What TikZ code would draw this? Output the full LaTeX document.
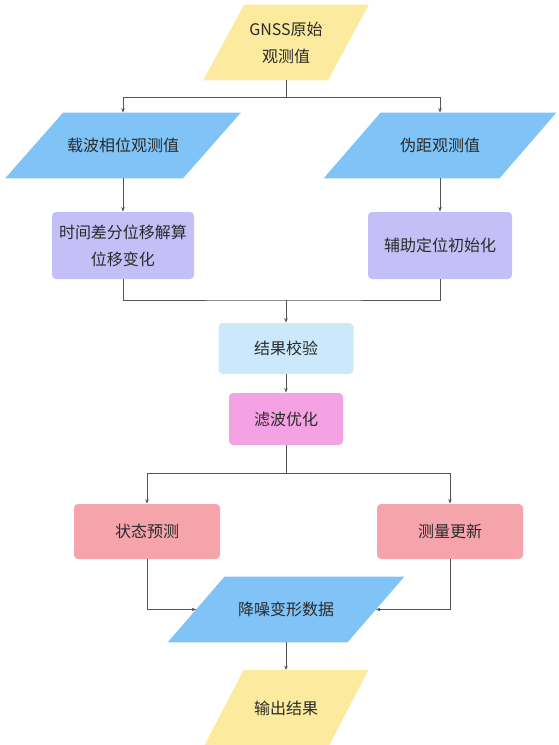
\documentclass[tikz,border=0pt]{standalone}
\usepackage{fontspec}
\setmainfont{Noto Sans CJK SC}
\usetikzlibrary{arrows.meta,backgrounds}

\definecolor{ioyellow}{HTML}{FCEB9E}
\definecolor{ioblue}{HTML}{7FC3F7}
\definecolor{procpurple}{HTML}{C5BFF7}
\definecolor{checkblue}{HTML}{CBE9FA}
\definecolor{filterpink}{HTML}{F4A2E3}
\definecolor{kfred}{HTML}{F5A4AC}
\definecolor{linegray}{HTML}{555555}
\definecolor{textgray}{HTML}{2A2A2A}

\tikzset{
  iobox/.style 2 args={minimum width=#1, minimum height=#2, inner sep=0pt},
  procbox/.style={fill=#1, rounded corners=4pt, inner sep=0pt}
}

\begin{document}
\begin{tikzpicture}[x=1pt,y=-1pt,->,>={Stealth[length=4.5pt,width=3.5pt]},
  color=linegray, line width=0.8pt,
  every node/.style={font=\fontsize{16}{27}\selectfont, text=textgray, align=center}]
\useasboundingbox (0,0) rectangle (559,745);

\node[iobox={124pt}{75pt}] (raw) at (286,42.5) {GNSS原始\\观测值};
\node[iobox={177pt}{65pt}] (carrier) at (123,145.5) {载波相位观测值};
\node[iobox={175pt}{65pt}] (pseudo) at (440,145.5) {伪距观测值};
\node[procbox=procpurple, minimum width=142pt, minimum height=67pt] (diff) at (123,245.5) {时间差分位移解算\\位移变化};
\node[procbox=procpurple, minimum width=144pt, minimum height=67pt] (aux) at (440,245.5) {辅助定位初始化};
\node[procbox=checkblue, minimum width=135pt, minimum height=51pt] (check) at (286,348.5) {结果校验};
\node[procbox=filterpink, minimum width=114pt, minimum height=52pt] (filter) at (286,419) {滤波优化};
\node[procbox=kfred, minimum width=146pt, minimum height=55pt] (predict) at (147,531.5) {状态预测};
\node[procbox=kfred, minimum width=146pt, minimum height=55pt] (update) at (450,531.5) {测量更新};
\node[iobox={179pt}{65pt}] (denoise) at (286,609.5) {降噪变形数据};
\node[iobox={124pt}{76pt}] (output) at (286,708.5) {输出结果};

\coordinate (split1) at (286,97);
\coordinate (join1) at (286,300);
\coordinate (split2) at (286,473);

% parallelograms behind the text
\begin{scope}[on background layer]
\foreach \n/\s/\c in {raw/20.5/ioyellow, carrier/29/ioblue, pseudo/28.5/ioblue, denoise/28.5/ioblue, output/20/ioyellow}
  \fill[\c] ([xshift=\s pt]\n.north west) -- ([xshift=\s pt]\n.north east)
    -- ([xshift=-\s pt]\n.south east) -- ([xshift=-\s pt]\n.south west) -- cycle;
\end{scope}

\draw[-] (raw) -- (split1);
\draw (split1) -| (carrier.north);
\draw (split1) -| (pseudo.north);
\draw (carrier) -- (diff);
\draw (pseudo) -- (aux);
\draw[-] (diff.south) |- (join1) -| (aux.south);
\draw (join1) -- (check);
\draw (check) -- (filter);
\draw[-] (filter) -- (split2);
\draw (split2) -| (predict.north);
\draw (split2) -| (update.north);
\draw (predict.south) |- (denoise.west);
\draw (update.south) |- (denoise.east);
\draw (denoise) -- (output);
\end{tikzpicture}
\end{document}
